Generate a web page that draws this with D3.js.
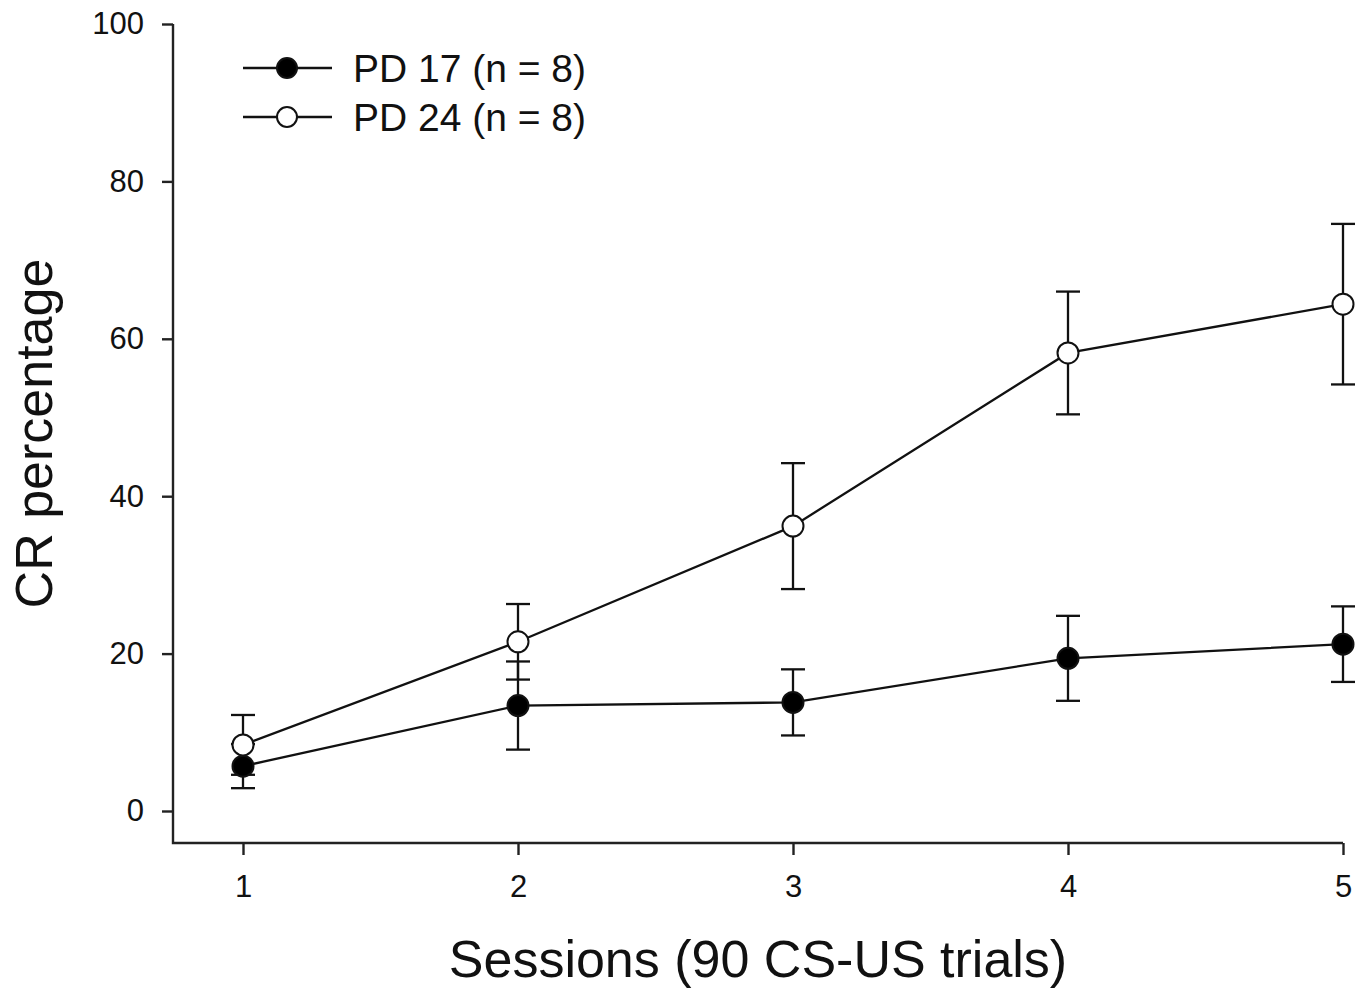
<!DOCTYPE html>
<html>
<head>
<meta charset="utf-8">
<title>CR percentage by session</title>
<script src="https://cdn.jsdelivr.net/npm/d3@7/dist/d3.min.js"></script>
<style>
	body, html {
		margin: 0;
		padding: 0;
		background: #fff;
	}
	svg text {
		font-family: "Liberation Sans", Arial, sans-serif;
		fill: #111;
	}
	.axis path, .axis line, .spine {
		stroke: #222;
		stroke-width: 2.4px;
	}
</style>
</head>
<body>
<svg id="Chart" width="1368" height="994"></svg>

<script>
	// data
	var sessions = [1, 2, 3, 4, 5];
	var pd17Mean = [5.7, 13.4, 13.8, 19.4, 21.2];
	var pd17Err  = [2.8, 5.6, 4.2, 5.4, 4.8];
	var pd24Mean = [8.4, 21.5, 36.2, 58.2, 64.4];
	var pd24Err  = [3.8, 4.8, 8.0, 7.8, 10.2];
	var yTicks = [0, 20, 40, 60, 80, 100];
	var seriesNames = ["PD 17 (n = 8)", "PD 24 (n = 8)"];
	var seriesFill = ["#000", "#fff"];

	var axisX = 173,      // y spine
		axisY = 843;      // x spine

	var x = d3.scaleLinear().domain([1, 5]).range([243, 1343]);
	var y = d3.scaleLinear().domain([0, 100]).range([811, 24]);

	var svg = d3.select("#Chart");

	var series = [
		{ name: seriesNames[0], mean: pd17Mean, err: pd17Err, fill: seriesFill[0] },
		{ name: seriesNames[1], mean: pd24Mean, err: pd24Err, fill: seriesFill[1] }
	];

	// axes
	var yAxis = svg.append("g")
		.attr("class", "axis")
		.attr("transform", "translate(" + axisX + ",0)")
		.call(d3.axisLeft(y).tickValues(yTicks).tickSize(11).tickPadding(18).tickSizeOuter(0));
	yAxis.select(".domain").remove();

	var xAxis = svg.append("g")
		.attr("class", "axis")
		.attr("transform", "translate(0," + axisY + ")")
		.call(d3.axisBottom(x).tickValues(sessions).tickFormat(d3.format("d")).tickSize(12).tickPadding(20).tickSizeOuter(0));
	xAxis.select(".domain").remove();

	svg.selectAll(".axis text").style("font-size", "31px");

	svg.append("path")
		.attr("class", "spine")
		.attr("fill", "none")
		.attr("d", "M" + axisX + "," + y(100) + "V" + axisY + "H" + x(5));

	// error bars
	var capW = 12;
	series.forEach(function(s) {
		var g = svg.append("g").attr("stroke", "#111").attr("stroke-width", 2.3);
		sessions.forEach(function(d, i) {
			var cx = x(d),
				top = y(s.mean[i] + s.err[i]),
				bot = y(s.mean[i] - s.err[i]);
			g.append("line").attr("x1", cx).attr("x2", cx).attr("y1", top).attr("y2", bot);
			g.append("line").attr("x1", cx - capW).attr("x2", cx + capW).attr("y1", top).attr("y2", top);
			g.append("line").attr("x1", cx - capW).attr("x2", cx + capW).attr("y1", bot).attr("y2", bot);
		});
	});

	// lines
	var line = d3.line()
		.x(function(d) { return x(d[0]); })
		.y(function(d) { return y(d[1]); });

	series.forEach(function(s) {
		svg.append("path")
			.datum(sessions.map(function(d, i) { return [d, s.mean[i]]; }))
			.attr("fill", "none")
			.attr("stroke", "#111")
			.attr("stroke-width", 2.3)
			.attr("d", line);
	});

	// markers
	series.forEach(function(s) {
		svg.append("g").selectAll("circle")
			.data(sessions)
		  .enter().append("circle")
			.attr("cx", function(d) { return x(d); })
			.attr("cy", function(d, i) { return y(s.mean[i]); })
			.attr("r", 10.5)
			.attr("fill", s.fill)
			.attr("stroke", "#111")
			.attr("stroke-width", 2);
	});

	// legend
	var legend = svg.append("g").attr("transform", "translate(243,68)");
	var legendRow = legend.selectAll("g")
		.data(series)
	  .enter().append("g")
		.attr("transform", function(d, i) { return "translate(0," + i * 49 + ")"; });

	legendRow.append("line")
		.attr("x1", 0).attr("x2", 89)
		.attr("stroke", "#111").attr("stroke-width", 2.3);
	legendRow.append("circle")
		.attr("cx", 44).attr("r", 10)
		.attr("fill", function(d) { return d.fill; })
		.attr("stroke", "#111").attr("stroke-width", 2);
	legendRow.append("text")
		.attr("x", 110)
		.attr("y", 14)
		.style("font-size", "39px")
		.text(function(d) { return d.name; });

	// axis titles
	svg.append("text")
		.attr("x", (axisX + x(5)) / 2)
		.attr("y", 977)
		.attr("text-anchor", "middle")
		.style("font-size", "52px")
		.text("Sessions (90 CS-US trials)");

	svg.append("text")
		.attr("transform", "translate(52," + (y(100) + axisY) / 2 + ") rotate(-90)")
		.attr("text-anchor", "middle")
		.style("font-size", "52px")
		.text("CR percentage");
</script>
</body>
</html>
